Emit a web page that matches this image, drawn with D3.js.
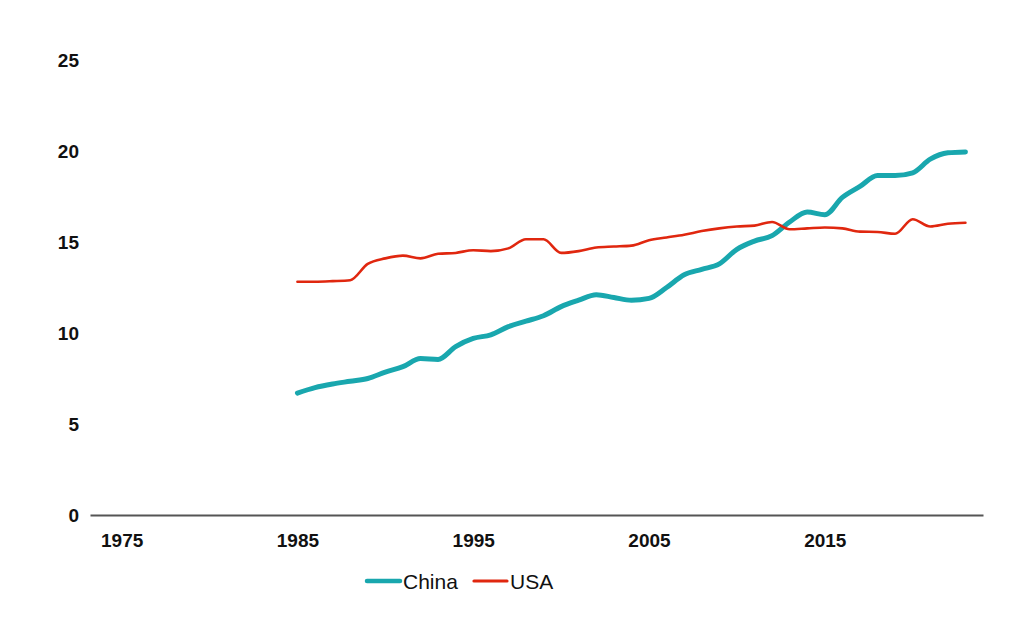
<!DOCTYPE html>
<html>
<head>
<meta charset="utf-8">
<script src="https://cdn.jsdelivr.net/npm/d3@7"></script>
<style>
  body { margin: 0; background: #fff; }
  svg { display: block; font-family: "Liberation Sans", Arial, sans-serif; }
  .tick text { font-size: 19px; font-weight: bold; fill: #111; }
  .legend text { font-size: 21px; fill: #111; }
</style>
</head>
<body>
<div id="chart"></div>
<script>
// Data
var years = d3.range(1985, 2024);
var china = [6.7, 7.0, 7.2, 7.35, 7.5, 7.85, 8.15, 8.6, 8.55, 9.25,
             9.7, 9.9, 10.35, 10.65, 10.95, 11.45, 11.8, 12.1, 11.95, 11.8,
             11.9, 12.5, 13.2, 13.5, 13.8, 14.6, 15.05, 15.35, 16.1, 16.65,
             16.5, 17.45, 18.05, 18.65, 18.65, 18.8, 19.55, 19.9, 19.95];
var usa = [12.82, 12.82, 12.85, 12.9, 13.8, 14.1, 14.25, 14.1, 14.35, 14.4,
           14.55, 14.5, 14.65, 15.15, 15.15, 14.4, 14.5, 14.7, 14.75, 14.8,
           15.1, 15.25, 15.4, 15.6, 15.75, 15.85, 15.9, 16.1, 15.7, 15.75,
           15.8, 15.75, 15.57, 15.55, 15.45, 16.25, 15.85, 16.0, 16.06];
var xTicks = [1975, 1985, 1995, 2005, 2015];
var yTicks = [0, 5, 10, 15, 20, 25];

var series = [
  {name: "China", values: china, color: "#19a7ae", width: 5},
  {name: "USA", values: usa, color: "#e0270f", width: 2.6}
];

var width = 1024, height = 624;

// Set the ranges
var x = d3.scaleLinear().domain([1973.2, 2024]).range([90, 983]);
var y = d3.scaleLinear().domain([0, 25]).range([515, 60]);

var svg = d3.select("#chart")
  .append("svg")
    .attr("width", width)
    .attr("height", height);

// X axis
var xAxis = svg.append("g")
  .attr("class", "x axis")
  .attr("transform", "translate(0," + y(0) + ")")
  .call(d3.axisBottom(x).tickValues(xTicks).tickFormat(d3.format("d")).tickSize(0).tickSizeOuter(0));
xAxis.select(".domain").attr("stroke", "#555").attr("stroke-width", 2);
xAxis.selectAll(".tick text").attr("dy", "0").attr("y", 32);

// Y axis (labels only)
var yAxis = svg.append("g")
  .attr("class", "y axis")
  .attr("transform", "translate(79,0)")
  .call(d3.axisLeft(y).tickValues(yTicks).tickSize(0));
yAxis.select(".domain").remove();
yAxis.selectAll(".tick text").attr("x", 0).attr("dy", "0.36em");

// Lines
var line = d3.line()
  .x(function(d, i) { return x(years[i]); })
  .y(function(d) { return y(d); })
  .curve(d3.curveMonotoneX);

svg.selectAll("path.series")
  .data(series)
  .enter().append("path")
    .attr("class", "series")
    .attr("fill", "none")
    .attr("stroke", function(d) { return d.color; })
    .attr("stroke-width", function(d) { return d.width; })
    .attr("stroke-linecap", "round")
    .attr("stroke-linejoin", "round")
    .attr("d", function(d) { return line(d.values); });

// Legend
var legendX = [367, 474];
var legend = svg.append("g").attr("class", "legend")
  .selectAll("g")
  .data(series)
  .enter().append("g")
    .attr("transform", function(d, i) { return "translate(" + legendX[i] + ",581)"; });
legend.append("line")
  .attr("x1", 0).attr("x2", 33)
  .attr("stroke", function(d) { return d.color; })
  .attr("stroke-width", function(d) { return d.width === 5 ? 4.5 : 3.2; })
  .attr("stroke-linecap", "round");
legend.append("text")
  .attr("x", 36)
  .attr("dy", "0.36em")
  .text(function(d) { return d.name; });
</script>
</body>
</html>
